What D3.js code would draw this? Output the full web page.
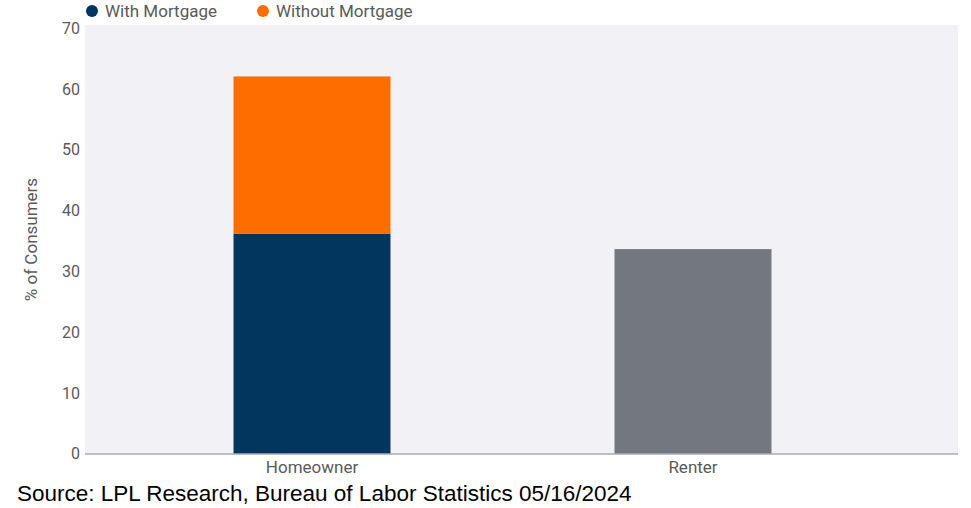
<!DOCTYPE html>
<html>
<head>
<meta charset="utf-8">
<script src="https://cdn.jsdelivr.net/npm/d3@7"></script>
<style>
    body { margin: 0; background: #fff; }
    svg text { font-family: Roboto, "DejaVu Sans", sans-serif; }
</style>
</head>
<body>
<svg id="chart" width="971" height="508"></svg>
<script>
const categories = ['Homeowner', 'Renter'];
const seriesNames = ['With Mortgage', 'Without Mortgage', 'Renter'];
const withMortgage = [36.2, 0];
const withoutMortgage = [25.9, 0];
const renter = [0, 33.7];
const yTicks = [0, 10, 20, 30, 40, 50, 60, 70];

const colors = {
    'With Mortgage': '#03365f',
    'Without Mortgage': '#fd6d00',
    'Renter': '#73777f'
};

const svg = d3.select('#chart');
const [plotLeft, plotRight, plotTop, plotBottom] = [85, 958, 25, 454];

// table for the stack
const rows = categories.map((c, i) => ({
    category: c,
    'With Mortgage': withMortgage[i],
    'Without Mortgage': withoutMortgage[i],
    'Renter': renter[i]
}));
const stacked = d3.stack().keys(seriesNames)(rows);

const y = d3.scaleLinear().domain([0, 70]).range([plotBottom, 28.4]);
const x = d3.scaleBand().domain(categories).range([121.5, 883.5])
    .paddingInner(0.588).paddingOuter(0.294);

// plot background
svg.append('rect')
    .attr('x', plotLeft).attr('y', plotTop)
    .attr('width', plotRight - plotLeft).attr('height', plotBottom - plotTop)
    .attr('fill', '#f1f1f6');

svg.append('g')
    .selectAll('g')
    .data(stacked)
    .join('g')
    .attr('fill', d => colors[d.key])
    .selectAll('rect')
    .data(d => d.filter(s => s[1] > s[0]))
    .join('rect')
    .attr('x', d => x(d.data.category))
    .attr('y', d => y(d[1]))
    .attr('width', x.bandwidth())
    .attr('height', d => y(d[0]) - y(d[1]));

// baseline
svg.append('line')
    .attr('x1', plotLeft).attr('x2', plotRight)
    .attr('y1', y(0)).attr('y2', y(0))
    .attr('stroke', '#a9abb2').attr('stroke-width', 1.5);

// y axis
const yAxis = svg.append('g')
    .attr('transform', `translate(${plotLeft},0)`)
    .call(d3.axisLeft(y).tickValues(yTicks).tickSize(0).tickPadding(5));
yAxis.select('.domain').remove();
yAxis.selectAll('text').attr('font-size', 16).attr('fill', '#5a5a5a').attr('dy', '0.3em');

// x axis
const xAxis = svg.append('g')
    .attr('transform', `translate(0,${y(0)})`)
    .call(d3.axisBottom(x).tickSize(0).tickPadding(7));
xAxis.select('.domain').remove();
xAxis.selectAll('text').attr('font-size', 17).attr('fill', '#5a5a5a');

// y label
svg.append('text')
    .attr('transform', `translate(37,${(plotTop + plotBottom) / 2}) rotate(-90)`)
    .attr('text-anchor', 'middle')
    .attr('font-size', 17)
    .attr('fill', '#5a5a5a')
    .text('% of Consumers');

// legend
const legend = svg.append('g')
    .selectAll('g')
    .data(seriesNames.slice(0, 2))
    .join('g')
    .attr('transform', (d, i) => `translate(${[92, 263][i]},11)`);
legend.append('circle').attr('r', 6).attr('fill', d => colors[d]);
legend.append('text')
    .attr('x', 13).attr('dy', '0.35em')
    .attr('font-size', 17).attr('fill', '#5a5a5a')
    .text(d => d);

// source
svg.append('text')
    .attr('x', 17).attr('y', 501)
    .attr('font-size', 22.5)
    .attr('fill', '#000')
    .style('font-family', '"Liberation Sans", Arial, sans-serif')
    .text('Source: LPL Research, Bureau of Labor Statistics 05/16/2024');
</script>
</body>
</html>
